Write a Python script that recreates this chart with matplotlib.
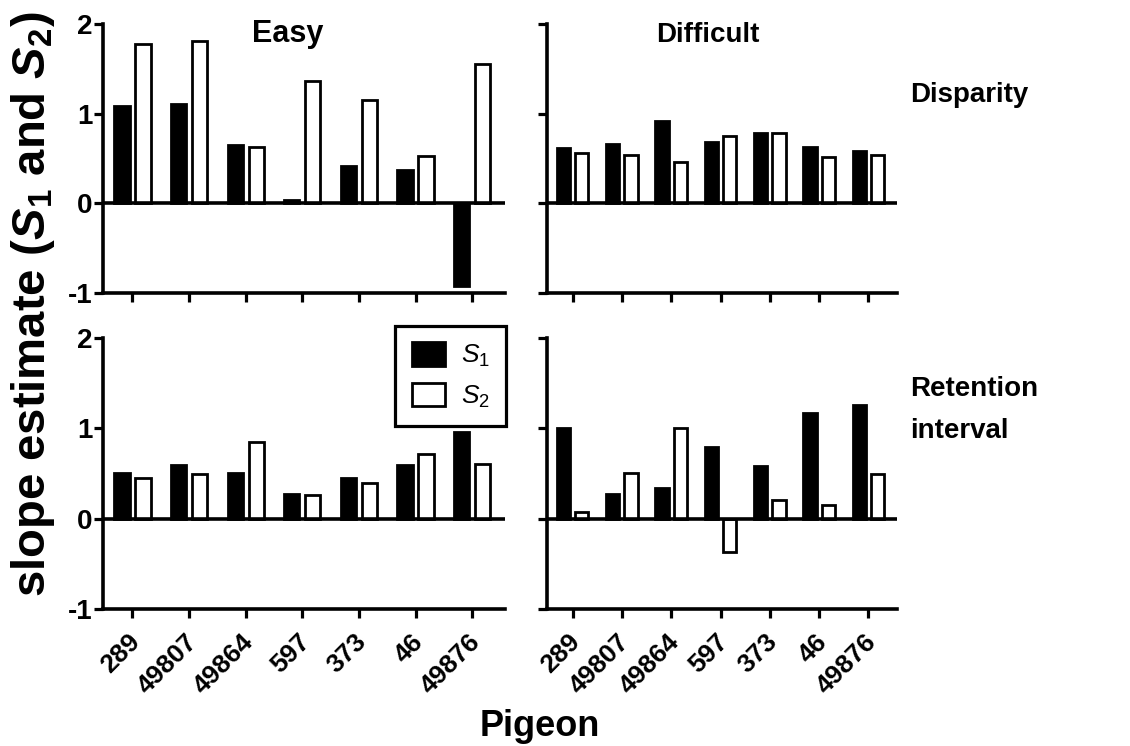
import matplotlib
matplotlib.use('Agg')
import matplotlib.pyplot as plt
import matplotlib.transforms as mtransforms
from matplotlib.patches import Patch
import numpy as np

pigeons = ['289', '49807', '49864', '597', '373', '46', '49876']
easy_disp_s1 = [1.09, 1.11, 0.65, 0.04, 0.42, 0.37, -0.92]
easy_disp_s2 = [1.78, 1.81, 0.63, 1.36, 1.15, 0.53, 1.55]
diff_disp_s1 = [0.62, 0.66, 0.92, 0.68, 0.78, 0.63, 0.58]
diff_disp_s2 = [0.56, 0.54, 0.46, 0.75, 0.78, 0.52, 0.54]
easy_ret_s1 = [0.51, 0.59, 0.51, 0.27, 0.45, 0.59, 0.96]
easy_ret_s2 = [0.45, 0.50, 0.845, 0.26, 0.39, 0.72, 0.61]
diff_ret_s1 = [1.00, 0.27, 0.34, 0.79, 0.58, 1.17, 1.255]
diff_ret_s2 = [0.07, 0.51, 1.00, -0.37, 0.21, 0.155, 0.50]
yticks = [-1, 0, 1, 2]
ytick_labels = ['-1', '0', '1', '2']
col_titles = ['Easy', 'Difficult']

plt.rcParams['font.family'] = ['Liberation Sans', 'DejaVu Sans']
plt.rcParams['mathtext.fontset'] = 'custom'
plt.rcParams['mathtext.rm'] = 'Liberation Sans'
plt.rcParams['mathtext.it'] = 'Liberation Sans:italic'
plt.rcParams['mathtext.bf'] = 'Liberation Sans:bold'
plt.rcParams['mathtext.bfit'] = 'Liberation Sans:italic:bold'

W, H = 1130, 746
fig = plt.figure(figsize=(W / 100, H / 100), dpi=100)

xcols = [(103, 505), (547, 897)]
yrows = [(24, 293), (338, 609)]

data = [[(easy_disp_s1, easy_disp_s2), (diff_disp_s1, diff_disp_s2)],
        [(easy_ret_s1, easy_ret_s2), (diff_ret_s1, diff_ret_s2)]]

x = np.arange(len(pigeons))
bw = 0.27
off = 0.185
shift = mtransforms.ScaledTranslation(4 / 100, -5 / 100, fig.dpi_scale_trans)
axes = {}
for r in range(2):
    for c in range(2):
        x0, x1 = xcols[c]
        y0, y1 = yrows[r]
        ax = fig.add_axes([x0 / W, 1 - y1 / H, (x1 - x0) / W, (y1 - y0) / H])
        axes[(r, c)] = ax
        s1, s2 = data[r][c]
        ax.bar(x - off, s1, width=bw, color='black', edgecolor='black', linewidth=2.0, zorder=2)
        ax.bar(x + off, s2, width=bw, color='white', edgecolor='black', linewidth=2.0, zorder=2)
        ax.axhline(0, color='black', linewidth=2.6, zorder=3)
        ax.set_xlim(-0.52, 6.58)
        ax.set_ylim(-1, 2)
        for sp in ['top', 'right']:
            ax.spines[sp].set_visible(False)
        for sp in ['left', 'bottom']:
            ax.spines[sp].set_linewidth(2.6)
        ax.tick_params(axis='both', direction='out', length=6.5, width=2.3, color='black')
        ax.set_yticks(yticks)
        ax.set_xticks(x)
        if c == 0:
            ax.set_yticklabels(ytick_labels, fontsize=20, fontweight='bold')
            ax.tick_params(axis='y', pad=1)
        else:
            ax.set_yticklabels([])
        if r == 1:
            ax.set_xticklabels(pigeons, fontsize=19, fontweight='bold')
            ax.tick_params(axis='x', pad=11)
            for lab in ax.get_xticklabels():
                lab.set_rotation(45)
                lab.set_ha('right')
                lab.set_va('center')
                lab.set_rotation_mode('anchor')
                lab.set_transform(lab.get_transform() + shift)
        else:
            ax.set_xticklabels([])

# legend
handles = [Patch(facecolor='black', edgecolor='black', linewidth=2.0),
           Patch(facecolor='white', edgecolor='black', linewidth=2.0)]
leg = axes[(1, 0)].legend(handles, [r'$\mathit{S}_{1}$', r'$\mathit{S}_{2}$'],
                          loc='upper right', bbox_to_anchor=(506 / W, 1 - 326 / H),
                          bbox_transform=fig.transFigure, borderaxespad=0,
                          fontsize=19, handlelength=1.25, handleheight=1.0,
                          handletextpad=0.6, borderpad=0.62, labelspacing=0.5,
                          fancybox=False, framealpha=1, edgecolor='black')
leg.get_frame().set_linewidth(2.3)

# column titles
fig.text(288 / W, 1 - 42 / H, col_titles[0], fontsize=22, fontweight='bold',
         ha='center', va='baseline')
fig.text(708 / W, 1 - 42 / H, col_titles[1], fontsize=20, fontweight='bold',
         ha='center', va='baseline')

# row labels
fig.text(910 / W, 1 - 102 / H, 'Disparity', fontsize=20, fontweight='bold',
         ha='left', va='baseline')
fig.text(910 / W, 1 - 396 / H, 'Retention', fontsize=20, fontweight='bold',
         ha='left', va='baseline')
fig.text(910 / W, 1 - 438 / H, 'interval', fontsize=20, fontweight='bold',
         ha='left', va='baseline')

# axis labels
fig.text(540 / W, 1 - 736 / H, 'Pigeon', fontsize=26, fontweight='bold',
         ha='center', va='baseline')
fig.text(33 / W, 1 - 304 / H,
         r'slope estimate ($\mathbfit{S}_{\mathbf{1}}$ and $\mathbfit{S}_{\mathbf{2}}$)',
         fontsize=34, fontweight='bold', rotation=90, ha='center', va='center')

fig.savefig('out.png', dpi=100)
